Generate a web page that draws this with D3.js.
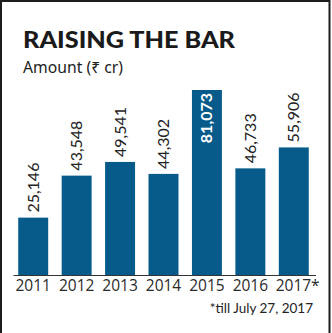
<!DOCTYPE html>
<html>
<head>
<meta charset="utf-8">
<script src="https://cdn.jsdelivr.net/npm/d3@7"></script>
<style>
  html, body { margin: 0; padding: 0; background: #fff; }
  svg { display: block; }
</style>
</head>
<body>
<svg id="chart" width="332" height="333"></svg>
<script>
// Yearly amounts, in ₹ crore
const years = ["2011", "2012", "2013", "2014", "2015", "2016", "2017*"];
const amounts = [25146, 43548, 49541, 44302, 81073, 46733, 55906];
const valueLabels = ["25,146", "43,548", "49,541", "44,302", "81,073", "46,733", "55,906"];
const highlightYear = "2015";

const title = "RAISING THE BAR";
const subtitle = "Amount (₹ cr)";
const footnote = "*till July 27, 2017";

const svg = d3.select("#chart");
const barColor = "#065b8b";
const textColor = "#222";

// Frame
svg.append("path")
  .attr("d", "M1,333 V1 H329.5 V333")
  .attr("fill", "none")
  .attr("stroke", "#1d1d1d")
  .attr("stroke-width", 2);

svg.append("text")
  .attr("x", 23).attr("y", 48)
  .attr("font-family", "Lato, 'Open Sans', sans-serif")
  .attr("font-weight", 900)
  .attr("font-size", 22.5)
  .attr("fill", "#1a1a1a")
  .attr("textLength", 212)
  .attr("lengthAdjust", "spacingAndGlyphs")
  .text(title);

svg.append("text")
  .attr("x", 23).attr("y", 73)
  .attr("font-family", "'Noto Sans', Lato, sans-serif")
  .attr("font-size", 16)
  .attr("fill", textColor)
  .attr("textLength", 100)
  .attr("lengthAdjust", "spacingAndGlyphs")
  .text(subtitle);

const x = d3.scaleBand()
  .domain(years)
  .range([11.5, 315.5])
  .paddingInner(0.31)
  .paddingOuter(0.155);

const y = d3.scaleLinear()
  .domain([0, 81073])
  .range([275, 90]);

const data = years.map((yr, i) => ({ year: yr, value: amounts[i], label: valueLabels[i] }));

svg.append("g").selectAll("rect")
  .data(data)
  .join("rect")
  .attr("x", d => x(d.year))
  .attr("y", d => y(d.value))
  .attr("width", x.bandwidth())
  .attr("height", d => y(0) - y(d.value))
  .attr("fill", barColor);

// Value labels, rotated; the tallest bar carries its label inside
svg.append("g").selectAll("text")
  .data(data)
  .join("text")
  .attr("transform", d => {
    const cx = x(d.year) + x.bandwidth() / 2;
    const inside = d.year === highlightYear;
    const yy = inside ? y(d.value) + 3 : y(d.value) - 5;
    return `translate(${cx + 5.5},${yy}) rotate(-90)`;
  })
  .attr("text-anchor", d => d.year === highlightYear ? "end" : "start")
  .attr("font-family", "Lato, 'Open Sans', sans-serif")
  .attr("font-weight", d => d.year === highlightYear ? 700 : 400)
  .attr("font-size", 16)
  .attr("fill", d => d.year === highlightYear ? "#fff" : textColor)
  .text(d => d.label);

// Baseline and year labels
const xAxis = d3.axisBottom(x).tickSize(0).tickPadding(5);
const gx = svg.append("g")
  .attr("transform", `translate(0,${y(0)})`)
  .call(xAxis);
gx.select(".domain")
  .attr("d", "M13.5,0.5H316")
  .attr("stroke", "#333")
  .attr("stroke-width", 1);
gx.selectAll(".tick text")
  .attr("font-family", "'Open Sans', sans-serif")
  .attr("font-size", 15.5)
  .attr("fill", "#2a2a2a")
  .attr("dy", "0.71em")
  .attr("y", 5);
gx.selectAll(".tick text")
  .filter(d => d === "2017*")
  .attr("dx", "0.25em");

svg.append("text")
  .attr("x", 313).attr("y", 313)
  .attr("text-anchor", "end")
  .attr("font-family", "Lato, 'Open Sans', sans-serif")
  .attr("font-size", 13.5)
  .attr("fill", textColor)
  .text(footnote);
</script>
</body>
</html>
